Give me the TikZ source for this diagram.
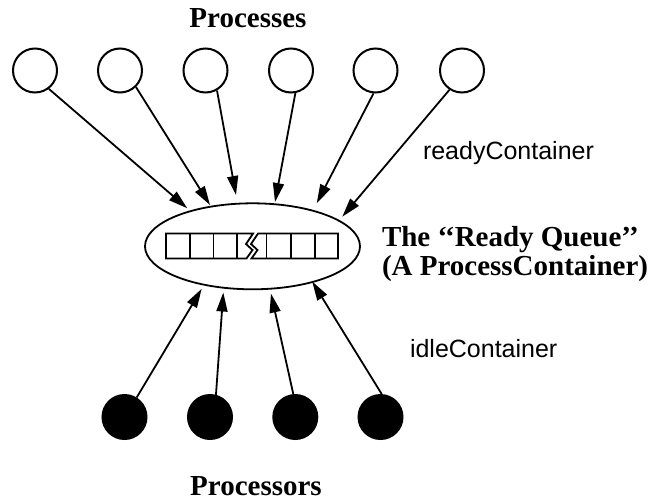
\documentclass[tikz,border=0pt]{standalone}
\usepackage{fontspec}
\setmainfont{Liberation Serif}
\setsansfont{Liberation Sans}
\usetikzlibrary{shapes.geometric,arrows.meta}

\begin{document}
\begin{tikzpicture}[x=1pt,y=-1pt,
  line width=2pt,
  proc/.style={circle,draw,minimum size=44pt,inner sep=0pt},
  cpu/.style={circle,draw,fill=black,minimum size=44pt,inner sep=0pt},
  arr/.style={-{Triangle[length=19pt,width=11pt]},line width=1.8pt},
  title/.style={font=\fontsize{29pt}{26pt}\selectfont\bfseries,inner sep=0pt},
  lbl/.style={font=\sffamily\fontsize{25pt}{28pt}\selectfont,inner sep=0pt}]
\useasboundingbox (0,0) rectangle (656,501);

% processes (top row)
\node[proc] (p1) at (35,70.5) {};
\node[proc] (p2) at (120,70.5) {};
\node[proc] (p3) at (205.5,70.5) {};
\node[proc] (p4) at (291,70.5) {};
\node[proc] (p5) at (375.5,70.5) {};
\node[proc] (p6) at (462,70.5) {};

% processors (bottom row)
\node[cpu] (c1) at (124.5,417) {};
\node[cpu] (c2) at (210,417) {};
\node[cpu] (c3) at (295.3,417) {};
\node[cpu] (c4) at (380.5,417) {};

% the ready queue container
\node[ellipse,draw,line width=1.8pt,minimum width=215pt,minimum height=86pt,inner sep=0pt] (rq) at (252.5,246.3) {};

% queue cells with a break in the middle
\draw[line width=1.8pt] (166,233.5) -- (253,233.5) -- (246,244) -- (252.5,250) -- (246.5,258.5) -- (166,258.5) -- cycle;
\draw[line width=1.8pt] (258,233.5) -- (338,233.5) -- (338,258.5) -- (251.5,258.5) -- (257.5,250) -- (251,244) -- cycle;
\foreach \x in {190,213.5,237,266.5,291,315}
  \draw[line width=1.8pt] (\x,233.5) -- (\x,258.5);

% arrow targets around the container
\coordinate (t1) at (187.3,208.3);
\coordinate (t2) at (210,205);
\coordinate (t3) at (236,195);
\coordinate (t4) at (275,202);
\coordinate (t5) at (316.7,203.3);
\coordinate (t6) at (342.3,216.7);
\coordinate (b1) at (201.7,288.8);
\coordinate (b2) at (223.3,292.5);
\coordinate (b3) at (271,293.6);
\coordinate (b4) at (312.2,281.5);

\draw[arr] (p1.-53) -- (t1);
\draw[arr] (p2.-46) -- (t2);
\draw[arr] (p3.-60) -- (t3);
\draw[arr] (p4.-79) -- (t4);
\draw[arr] (p5.-95) -- (t5);
\draw[arr] (p6.-123) -- (t6);

\draw[arr] (c1.58) -- (b1);
\draw[arr] (c2.75) -- (b2);
\draw[arr] (c3.95) -- (b3);
\draw[arr] (c4.87) -- (b4);

% labels
\node[title,anchor=base] (hp) at (248,27) {Processes};
\node[title,anchor=base] (hc) at (256,495) {Processors};
\node[title,anchor=base west] (rqa) at (381,246) {The ‘‘Ready Queue’’};
\node[title,anchor=base west] (rqb) at (381,275) {(A ProcessContainer)};
\node[lbl,anchor=base west] (lr) at (422,159.5) {readyContainer};
\node[lbl,anchor=base west] (li) at (409,357) {idleContainer};
\end{tikzpicture}
\end{document}
